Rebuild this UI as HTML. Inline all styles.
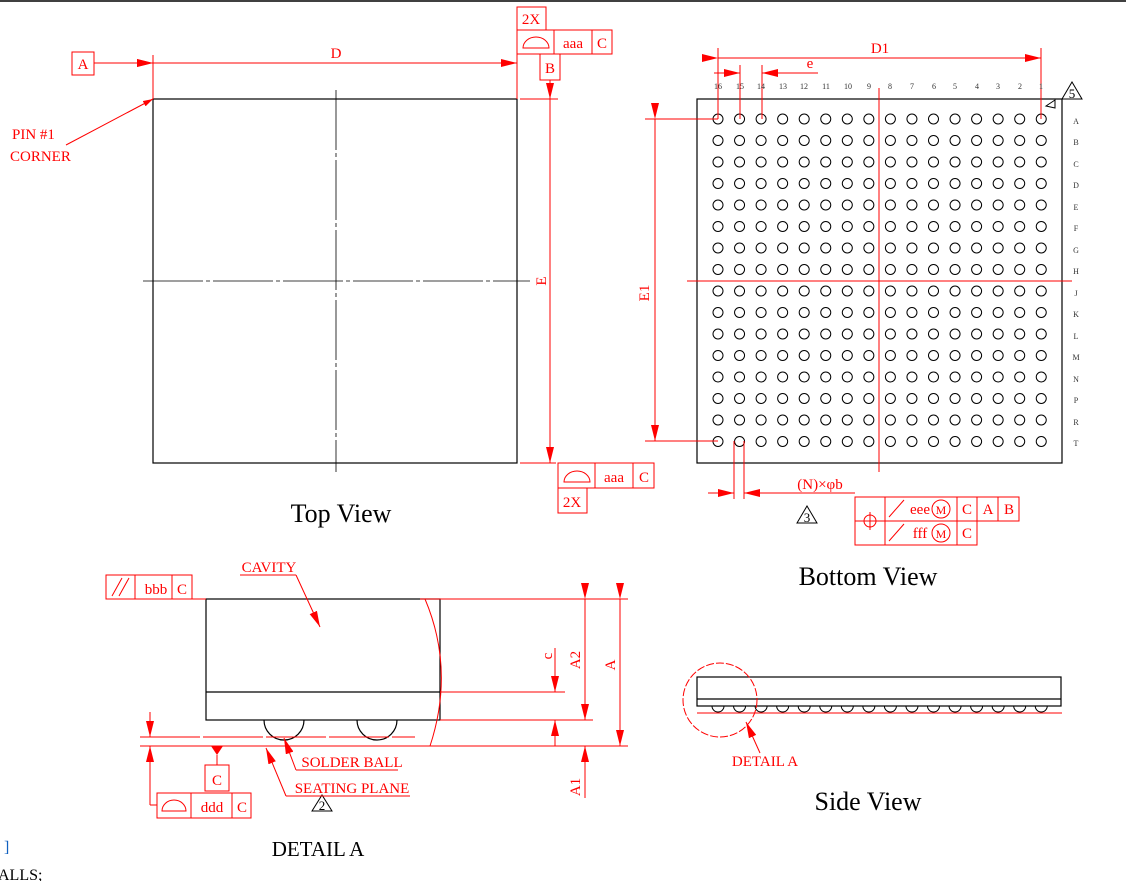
<!DOCTYPE html>
<html><head><meta charset="utf-8"><style>
html,body{margin:0;padding:0;background:#fff;width:1126px;height:881px;overflow:hidden}
svg{display:block}
text{font-family:"Liberation Serif","DejaVu Serif",serif}
.r{fill:#f00}
.k{fill:#000}
</style></head><body>
<svg width="1126" height="881" viewBox="0 0 1126 881" xmlns="http://www.w3.org/2000/svg">
<defs>
<marker id="ar" viewBox="0 0 10 6" refX="10" refY="3" markerWidth="10" markerHeight="6" markerUnits="userSpaceOnUse" orient="auto"><path d="M0,0 L10,3 L0,6 z" fill="#f00"/></marker>
<marker id="ar2" viewBox="0 0 16 8" refX="16" refY="4" markerWidth="16" markerHeight="8" markerUnits="userSpaceOnUse" orient="auto"><path d="M0,0 L16,4 L0,8 z" fill="#f00"/></marker>
</defs>
<line x1="0" y1="1" x2="1126" y2="1" stroke="#000" stroke-width="1.5"/>

<!-- TOP VIEW -->
<g stroke="#000" fill="none" stroke-width="1.2">
<rect x="153" y="99" width="364" height="364"/>
<line x1="336" y1="90" x2="336" y2="472" stroke-width="0.8" stroke-dasharray="60 3 4 3"/>
<line x1="143" y1="281" x2="530" y2="281" stroke-width="0.8" stroke-dasharray="60 3 4 3"/>
</g>
<g stroke="#f00" fill="none" stroke-width="1">
<rect x="72" y="52" width="22" height="23"/>
<line x1="94" y1="63" x2="153" y2="63" marker-end="url(#ar2)"/>
<line x1="153" y1="55" x2="153" y2="99"/>
<line x1="517" y1="30" x2="517" y2="99"/>
<line x1="153" y1="63" x2="517" y2="63" marker-start="url(#ar2)" marker-end="url(#ar2)"/>
<line x1="66" y1="145" x2="153" y2="99" marker-end="url(#ar)"/>
<rect x="517" y="7" width="29" height="23"/>
<rect x="517" y="30" width="95" height="24"/>
<line x1="554" y1="30" x2="554" y2="54"/><line x1="592" y1="30" x2="592" y2="54"/>
<path d="M523,48 A13,11 0 0 1 549,48 Z"/>
<rect x="540" y="54" width="20" height="26"/>
<line x1="520" y1="99" x2="558" y2="99"/>
<line x1="550" y1="80" x2="550" y2="99"/>
<line x1="550" y1="99" x2="550" y2="463" marker-start="url(#ar2)" marker-end="url(#ar2)"/>
<line x1="520" y1="463" x2="556" y2="463"/>
<rect x="558" y="463" width="96" height="25"/>
<line x1="595" y1="463" x2="595" y2="488"/><line x1="633" y1="463" x2="633" y2="488"/>
<path d="M564,482 A13,11 0 0 1 590,482 Z"/>
<rect x="558" y="488" width="29" height="25"/>
</g>
<g class="r" font-size="15" text-anchor="middle">
<text x="83" y="69">A</text>
<text x="336" y="58">D</text>
<text x="531" y="24">2X</text>
<text x="573" y="48">aaa</text>
<text x="602" y="48">C</text>
<text x="550" y="73">B</text>
<text x="614" y="482">aaa</text>
<text x="644" y="482">C</text>
<text x="572" y="507">2X</text>
<text x="546" y="281" transform="rotate(-90 546 281)">E</text>
</g>
<g class="r" font-size="15"><text x="12" y="139">PIN #1</text><text x="10" y="161">CORNER</text></g>
<text class="k" x="341" y="522" font-size="26" text-anchor="middle">Top  View</text>

<!-- BOTTOM VIEW -->
<rect x="697" y="99" width="365" height="364" fill="none" stroke="#000" stroke-width="1.2"/>
<g id="balls" fill="none" stroke="#000" stroke-width="1"></g>
<g stroke="#f00" stroke-width="1" fill="none">
<line x1="879" y1="88" x2="879" y2="472"/>
<line x1="687" y1="281" x2="1072" y2="281"/>
<line x1="718" y1="48" x2="718" y2="119"/>
<line x1="1041" y1="48" x2="1041" y2="119"/>
<line x1="718" y1="58" x2="1041" y2="58" marker-start="url(#ar2)" marker-end="url(#ar2)"/>
<line x1="740" y1="65" x2="740" y2="119"/>
<line x1="762" y1="65" x2="762" y2="119"/>
<line x1="714" y1="73" x2="740" y2="73" marker-end="url(#ar2)"/>
<line x1="818" y1="73" x2="762" y2="73" marker-end="url(#ar2)"/>
<line x1="645" y1="119" x2="718" y2="119"/>
<line x1="645" y1="441" x2="718" y2="441"/>
<line x1="655" y1="119" x2="655" y2="441" marker-start="url(#ar2)" marker-end="url(#ar2)"/>
<line x1="734" y1="441" x2="734" y2="499"/>
<line x1="744" y1="441" x2="744" y2="499"/>
<line x1="708" y1="493" x2="734" y2="493" marker-end="url(#ar2)"/>
<line x1="855" y1="493" x2="744" y2="493" marker-end="url(#ar2)"/>
<rect x="855" y="497" width="164" height="24"/>
<rect x="855" y="521" width="122" height="24"/>
<line x1="885" y1="497" x2="885" y2="545"/>
<line x1="957" y1="497" x2="957" y2="545"/>
<line x1="998" y1="497" x2="998" y2="521"/>
<line x1="977" y1="497" x2="977" y2="521"/>
<circle cx="870" cy="521" r="6"/><line x1="861" y1="521" x2="879" y2="521"/><line x1="870" y1="512" x2="870" y2="530"/>
<line x1="889" y1="517" x2="904" y2="500"/><line x1="889" y1="541" x2="904" y2="524"/>
<circle cx="941" cy="509" r="9"/><circle cx="941" cy="533" r="9"/>
</g>
<g class="r" font-size="15" text-anchor="middle">
<text x="880" y="53">D1</text>
<text x="810" y="68">e</text>
<text x="649" y="293" transform="rotate(-90 649 293)">E1</text>
<text x="820" y="489">(N)×φb</text>
<text x="920" y="514">eee</text><text x="941" y="514" font-size="12">M</text>
<text x="967" y="514">C</text><text x="988" y="514">A</text><text x="1009" y="514">B</text>
<text x="920" y="538">fff</text><text x="941" y="538" font-size="12">M</text>
<text x="967" y="538">C</text>
</g>
<g font-size="8" fill="#333" text-anchor="middle">
<text x="718" y="89">16</text><text x="740" y="89">15</text><text x="761" y="89">14</text><text x="783" y="89">13</text><text x="804" y="89">12</text><text x="826" y="89">11</text><text x="848" y="89">10</text><text x="869" y="89">9</text><text x="890" y="89">8</text><text x="912" y="89">7</text><text x="934" y="89">6</text><text x="955" y="89">5</text><text x="977" y="89">4</text><text x="998" y="89">3</text><text x="1020" y="89">2</text><text x="1041" y="89">1</text>
</g>
<g font-size="8" fill="#333" text-anchor="middle">
<text x="1076" y="124">A</text><text x="1076" y="145">B</text><text x="1076" y="167">C</text><text x="1076" y="188">D</text><text x="1076" y="210">E</text><text x="1076" y="231">F</text><text x="1076" y="253">G</text><text x="1076" y="274">H</text><text x="1076" y="296">J</text><text x="1076" y="317">K</text><text x="1076" y="339">L</text><text x="1076" y="360">M</text><text x="1076" y="382">N</text><text x="1076" y="403">P</text><text x="1076" y="425">R</text><text x="1076" y="446">T</text>
</g>
<g fill="none" stroke="#000" stroke-width="1">
<path d="M1062,99 L1072,82 L1082,99 Z"/>
<path d="M1046,106 L1055,100 L1055,108 Z"/>
<path d="M797,523 L807,506 L817,523 Z"/>
<path d="M312,811 L322,795 L332,811 Z"/>
</g>
<g font-size="13" fill="#000" text-anchor="middle">
<text x="1072" y="98">5</text><text x="807" y="522">3</text><text x="322" y="810">2</text>
</g>
<text class="k" x="868" y="585" font-size="26" text-anchor="middle">Bottom  View</text>

<!-- DETAIL A -->
<g fill="none" stroke="#000" stroke-width="1.2">
<rect x="206" y="599" width="234" height="121"/>
<line x1="206" y1="692" x2="440" y2="692"/>
<path d="M264,720 A20,20 0 0 0 304,720"/>
<path d="M357,720 A20,20 0 0 0 397,720"/>
</g>
<g fill="none" stroke="#f00" stroke-width="1">
<path d="M425,599 Q455,670 430,746"/>
<line x1="420" y1="599" x2="628" y2="599"/>
<line x1="440" y1="692" x2="565" y2="692"/>
<line x1="440" y1="720" x2="593" y2="720"/>
<line x1="140" y1="746" x2="628" y2="746"/>
<line x1="140" y1="737" x2="415" y2="737" stroke-dasharray="60 3"/>
<rect x="106" y="575" width="86" height="24"/>
<line x1="135" y1="575" x2="135" y2="599"/><line x1="172" y1="575" x2="172" y2="599"/>
<line x1="112" y1="596" x2="122" y2="578"/><line x1="119" y1="596" x2="129" y2="578"/>
<line x1="192" y1="599" x2="206" y2="599"/>
<line x1="555" y1="648" x2="555" y2="692" marker-end="url(#ar2)"/>
<line x1="555" y1="746" x2="555" y2="720" marker-end="url(#ar2)"/>
<line x1="585" y1="599" x2="585" y2="720" marker-start="url(#ar2)" marker-end="url(#ar2)"/>
<line x1="585" y1="798" x2="585" y2="746" marker-end="url(#ar2)"/>
<line x1="620" y1="599" x2="620" y2="746" marker-start="url(#ar2)" marker-end="url(#ar2)"/>
<line x1="150" y1="712" x2="150" y2="737" marker-end="url(#ar2)"/>
<line x1="150" y1="805" x2="150" y2="746" marker-end="url(#ar2)"/>
<line x1="150" y1="805" x2="157" y2="805"/>
<line x1="217" y1="755" x2="217" y2="765"/>
<rect x="205" y="765" width="24" height="26"/>
<rect x="157" y="793" width="94" height="25"/>
<line x1="191" y1="793" x2="191" y2="818"/><line x1="232" y1="793" x2="232" y2="818"/>
<path d="M162,811 A12,11 0 0 1 186,811 Z"/>
<line x1="240" y1="575" x2="296" y2="575"/>
<line x1="296" y1="575" x2="320" y2="627" marker-end="url(#ar2)"/>
<line x1="296" y1="770" x2="398" y2="770"/>
<line x1="296" y1="770" x2="284" y2="738" marker-end="url(#ar2)"/>
<line x1="286" y1="796" x2="410" y2="796"/>
<line x1="286" y1="796" x2="266" y2="748" marker-end="url(#ar2)"/>
</g>
<path d="M211,746 L223,746 L217,755 Z" fill="#f00"/>
<g class="r" font-size="15" text-anchor="middle">
<text x="156" y="594">bbb</text><text x="182" y="594">C</text>
<text x="217" y="785">C</text>
<text x="212" y="812">ddd</text><text x="242" y="812">C</text>
<text x="269" y="572">CAVITY</text>
<text x="352" y="767">SOLDER BALL</text>
<text x="352" y="793">SEATING PLANE</text>
<text x="552" y="656" transform="rotate(-90 552 656)">c</text>
<text x="580" y="660" transform="rotate(-90 580 660)">A2</text>
<text x="615" y="665" transform="rotate(-90 615 665)">A</text>
<text x="580" y="787" transform="rotate(-90 580 787)">A1</text>
</g>
<text class="k" x="318" y="856" font-size="21" text-anchor="middle">DETAIL A</text>

<!-- SIDE VIEW -->
<g fill="none" stroke="#000" stroke-width="1.2">
<rect x="697" y="677" width="364" height="29"/>
<line x1="697" y1="699" x2="1061" y2="699"/>
<g id="sballs" stroke-width="1"></g>
</g>
<g fill="none" stroke="#f00" stroke-width="1">
<line x1="697" y1="713" x2="1062" y2="713"/>
<circle cx="720" cy="700" r="37" stroke-dasharray="8 2"/>
<line x1="760" y1="753" x2="746" y2="722" marker-end="url(#ar2)"/>
</g>
<text class="r" x="765" y="766" font-size="15" text-anchor="middle">DETAIL A</text>
<text class="k" x="868" y="810" font-size="26" text-anchor="middle">Side  View</text>

<text x="4" y="852" font-size="16" fill="#1060c0">]</text>
<text x="-2" y="880" font-size="16" fill="#000">ALLS;</text>
</svg>
<script>
var ns="http://www.w3.org/2000/svg",g=document.getElementById("balls"),s=document.getElementById("sballs");
for(var i=0;i<16;i++){var x=718+i*21.55;
 for(var j=0;j<16;j++){var c=document.createElementNS(ns,"circle");c.setAttribute("cx",x);c.setAttribute("cy",119+j*21.5);c.setAttribute("r",5);g.appendChild(c);}
 var p=document.createElementNS(ns,"path");p.setAttribute("d","M"+(x-6)+",706 A6,6 0 0 0 "+(x+6)+",706");s.appendChild(p);}
</script>
</body></html>
